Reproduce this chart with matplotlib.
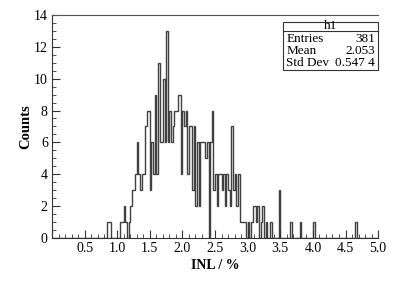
import numpy as np
import matplotlib
matplotlib.use("Agg")
import matplotlib.pyplot as plt
from matplotlib.ticker import MultipleLocator

# histogram h1: 200 bins from 0 to 5, only non-empty bins listed (lower edge, count)
n_bins, x_lo, x_hi = 200, 0.0, 5.0
bin_low = [0.850, 0.875, 1.050, 1.075, 1.100, 1.125, 1.175, 1.200, 1.225, 1.250,
           1.275, 1.300, 1.325, 1.350, 1.375, 1.400, 1.425, 1.450, 1.475, 1.500,
           1.525, 1.550, 1.575, 1.600, 1.625, 1.650, 1.675, 1.700, 1.725, 1.750,
           1.775, 1.800, 1.825, 1.850, 1.875, 1.900, 1.925, 1.950, 1.975, 2.000,
           2.025, 2.050, 2.075, 2.100, 2.125, 2.150, 2.175, 2.200, 2.225, 2.250,
           2.275, 2.300, 2.325, 2.350, 2.375, 2.425, 2.450, 2.475, 2.500, 2.525,
           2.550, 2.575, 2.600, 2.625, 2.650, 2.675, 2.700, 2.725, 2.750, 2.775,
           2.800, 2.825, 2.850, 2.875, 2.900, 2.925, 2.950, 3.000, 3.050, 3.075,
           3.100, 3.125, 3.150, 3.200, 3.225, 3.275, 3.350, 3.475, 3.650, 3.800,
           4.000, 4.650]
bin_counts = [1, 1, 1, 1, 2, 1, 1, 2, 3, 3,
              4, 6, 4, 3, 4, 4, 7, 8, 8, 3,
              6, 4, 9, 4, 11, 6, 6, 10, 6, 13,
              6, 8, 6, 7, 8, 8, 9, 9, 4, 8,
              7, 8, 4, 7, 7, 3, 7, 2, 6, 2,
              6, 6, 6, 5, 6, 6, 8, 3, 4, 2,
              4, 4, 3, 4, 2, 4, 3, 2, 7, 3,
              4, 2, 4, 1, 1, 1, 1, 1, 1, 2,
              2, 1, 2, 1, 2, 1, 1, 3, 1, 1,
              1, 1]

stats_labels = ["Entries", "Mean", "Std Dev"]
stats_values = ["381", "2.053", "0.547 4"]

edges = np.linspace(x_lo, x_hi, n_bins + 1)
counts = np.zeros(n_bins)
for xl, c in zip(bin_low, bin_counts):
    counts[int(round((xl - x_lo) / (x_hi - x_lo) * n_bins))] = c

plt.rcParams["font.family"] = "Liberation Serif"

fig = plt.figure(figsize=(4.11, 2.81), dpi=100)
ax = fig.add_axes([0.1265, 0.153, 0.7935, 0.794])

ax.stairs(counts, edges, color="#404040", linewidth=1.0, baseline=0)

ax.set_xlim(x_lo, x_hi)
ax.set_ylim(0, 14)
ax.set_xticks(np.arange(0, 5.01, 0.5))
ax.set_xticklabels([""] + ["%.1f" % v for v in np.arange(0.5, 5.01, 0.5)])
ax.set_yticks(np.arange(0, 15, 2))
ax.xaxis.set_minor_locator(MultipleLocator(0.1))
ax.yaxis.set_minor_locator(MultipleLocator(0.5))
ax.tick_params(which="both", direction="in", top=False, right=False,
               labelsize=10, color="#333333")
ax.tick_params(which="major", length=6, width=0.8, pad=3)
ax.tick_params(which="minor", length=3, width=0.6)

ax.spines["right"].set_visible(False)
ax.spines["top"].set_color("#555555")
for s in ["left", "bottom"]:
    ax.spines[s].set_color("#333333")

ax.set_xlabel("INL / %", fontsize=10, fontweight="bold", labelpad=3)
ax.set_ylabel("Counts", fontsize=10.5, fontweight="bold", labelpad=1)

# stats box
bx0, bx1, by0, by1, hline = 0.709, 1.0, 0.753, 0.970, 0.926
ax.add_patch(plt.Rectangle((bx0, by0), bx1 - bx0, by1 - by0, transform=ax.transAxes,
                           fill=True, facecolor="white", edgecolor="#333333",
                           linewidth=0.8, zorder=5, clip_on=False))
ax.plot([bx0, bx1], [hline, hline], transform=ax.transAxes, color="#333333",
        linewidth=0.8, zorder=6, clip_on=False)
ax.text((bx0 + bx1) / 2, 0.948, "h1", transform=ax.transAxes, ha="center",
        va="center", fontsize=9.5, zorder=7)
for lab, val, yy in zip(stats_labels, stats_values, [0.893, 0.838, 0.784]):
    ax.text(bx0 + 0.01, yy, lab, transform=ax.transAxes, ha="left", va="center",
            fontsize=9.5, zorder=7)
    ax.text(bx1 - 0.01, yy, val, transform=ax.transAxes, ha="right", va="center",
            fontsize=9.5, zorder=7)

fig.savefig("out.png", dpi=100)
